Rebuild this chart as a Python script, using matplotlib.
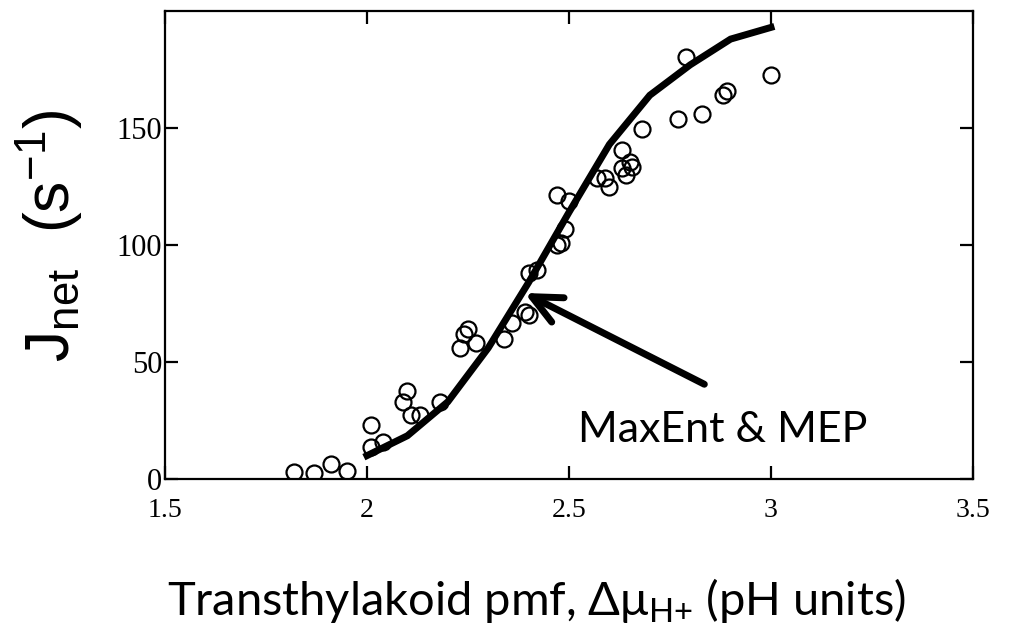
import numpy as np
import matplotlib
matplotlib.use('Agg')
import matplotlib.pyplot as plt

# measured data (open circles)
pmf_obs = [1.82, 1.87, 1.91, 1.95, 2.01, 2.01, 2.04, 2.09, 2.10, 2.11, 2.13, 2.18,
           2.23, 2.24, 2.25, 2.27, 2.34, 2.36, 2.39, 2.40, 2.40, 2.42,
           2.47, 2.48, 2.49, 2.47, 2.50, 2.57, 2.59, 2.60, 2.63, 2.64, 2.63,
           2.65, 2.655, 2.68, 2.77, 2.83, 2.88, 2.89, 2.79, 3.00]
j_obs = [3, 2.5, 6.5, 3.5, 23, 13.5, 16, 33, 37.5, 27.5, 27.5, 33,
         56, 62, 64, 58, 60, 66.5, 71.5, 70, 88, 89.5,
         100, 101, 107, 121.5, 119, 128.5, 128.5, 125, 133, 130, 140.5,
         135.5, 133.5, 149.5, 154, 156, 164, 166, 180.5, 172.5]

# MaxEnt & MEP prediction (thick line)
pmf_model = [2.0, 2.1, 2.2, 2.3, 2.4, 2.5, 2.6, 2.7, 2.8, 2.9, 3.0]
j_model = [10, 18.5, 33, 56, 84, 114, 143, 164, 177, 188, 193]

xticks = [1.5, 2, 2.5, 3, 3.5]
xtick_labels = ['1.5', '2', '2.5', '3', '3.5']
yticks = [0, 50, 100, 150]
ytick_labels = ['0', '50', '100', '150']

fig = plt.figure(figsize=(10.13, 6.37), dpi=100)
ax = fig.add_axes([0.1629, 0.2480, 0.7976, 0.7347])

ax.plot(pmf_model, j_model, color='black', lw=5, solid_joinstyle='miter', zorder=3)
ax.plot(pmf_obs, j_obs, 'o', mfc='none', mec='black', ms=11.5, mew=1.6, zorder=2)

# arrow pointing at the curve
ax.annotate('', xy=(2.39, 79.5), xytext=(2.835, 40.5),
            arrowprops=dict(arrowstyle='->, head_length=0.6, head_width=0.28',
                            lw=5, color='black', mutation_scale=35,
                            shrinkA=0, shrinkB=0))
ax.text(2.522, 15.8, 'MaxEnt & MEP', fontsize=31, family=['Lato', 'DejaVu Sans'],
        ha='left', va='baseline')

ax.set_xlim(1.5, 3.5)
ax.set_ylim(0, 200)
ax.set_xticks(xticks, xtick_labels)
ax.set_yticks(yticks, ytick_labels)
for s in ax.spines.values():
    s.set_linewidth(1.6)
ax.tick_params(direction='in', length=9.5, width=1.6, top=True, right=True,
               labelfontfamily='Liberation Serif')
ax.tick_params(axis='x', labelsize=20, pad=14)
ax.tick_params(axis='y', labelsize=22, pad=2)

fig.text(50 / 1013, 1 - 236 / 637, r'$\mathregular{J_{net}}$  (s$^{\mathregular{-1}}$)',
         rotation=90, fontsize=45, family='Liberation Sans', ha='center', va='center')
fig.text(536.5 / 1013, 1 - 615 / 637,
         r'Transthylakoid pmf, Δμ$_{\mathregular{H{+}}}$ (pH units)',
         fontsize=33.8, family=['Lato', 'DejaVu Sans'], ha='center', va='baseline')

fig.savefig('out.png', dpi=100)
